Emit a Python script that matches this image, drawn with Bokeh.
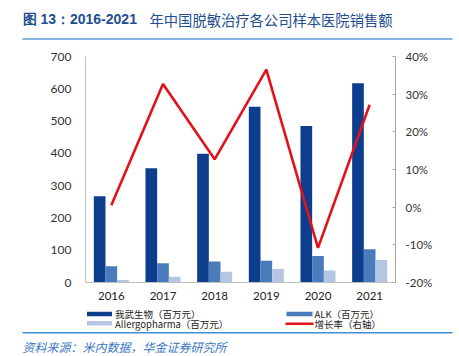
from bokeh.plotting import figure
from bokeh.models import (ColumnDataSource, Range1d, LinearAxis, Label, BoxAnnotation,
                          NumeralTickFormatter, FixedTicker)
from bokeh.transform import dodge
from bokeh.embed import file_html
from bokeh.resources import INLINE

years = [2016, 2017, 2018, 2019, 2020, 2021]
wowu = [267, 354, 399, 544, 485, 617]
alk = [50, 60, 65, 67, 82, 103]
allergo = [8, 18, 33, 42, 37, 70]
growth = [0.005, 0.327, 0.127, 0.365, -0.108, 0.272]
left_ticks = [0, 100, 200, 300, 400, 500, 600, 700]
right_ticks = [-0.2, -0.1, 0.0, 0.1, 0.2, 0.3, 0.4]

title_bold = "图 13：2016-2021"
title_rest = "年中国脱敏治疗各公司样本医院销售额"
source_text = "资料来源：米内数据，华金证券研究所"
legend_labels = ["我武生物（百万元）", "ALK（百万元）", "Allergopharma（百万元）", "增长率（右轴）"]

C_DARK = "#0D3E8E"
C_MID = "#4A7BBA"
C_LIGHT = "#B4C6E4"
C_RED = "#E4111C"
C_TITLE = "#1F4E91"
C_LINE = "#3F8FD6"
CJK = "Noto Sans CJK SC"
NUM = "Lato"

W, H = 459, 356
# plot area in page pixels
FL, FR, FT, FB = 85, 395, 56, 282

# ranges chosen so that the whole canvas is the frame and the plot area lands at FL..FR, FT..FB
ncat = len(years)
px_per_cat = (FR - FL) / ncat
x0 = years[0] - 0.5
xr = Range1d(x0 - FL / px_per_cat, x0 + (W - FL) / px_per_cat)
ymin, ymax = left_ticks[0], left_ticks[-1]
py = (FB - FT) / (ymax - ymin)
yr = Range1d(ymin - (H - FB) / py, ymax + FT / py)
gmin, gmax = right_ticks[0], right_ticks[-1]
pg = (FB - FT) / (gmax - gmin)
gr = Range1d(gmin - (H - FB) / pg, gmax + FT / pg)

p = figure(width=W, height=H, x_range=xr, y_range=yr, output_backend="svg",
           toolbar_location=None, x_axis_location=None, y_axis_location=None, min_border=0)
p.title.visible = False
p.outline_line_color = None
p.grid.visible = False
p.extra_y_ranges = {"g": gr}

src = ColumnDataSource(dict(year=years, wowu=wowu, alk=alk, allergo=allergo, growth=growth))
bw = 0.226
p.vbar(x=dodge("year", -bw), top="wowu", width=bw, source=src, fill_color=C_DARK, line_color=None)
p.vbar(x=dodge("year", 0), top="alk", width=bw, source=src, fill_color=C_MID, line_color=None)
p.vbar(x=dodge("year", bw), top="allergo", width=bw, source=src, fill_color=C_LIGHT, line_color=None)
p.line(x="year", y="growth", source=src, y_range_name="g", line_color=C_RED, line_width=2.6)

# axes, fixed at the plot-area edges
la = LinearAxis(fixed_location=x0, bounds=(ymin, ymax), ticker=FixedTicker(ticks=left_ticks))
la.axis_line_color = "#BFBFBF"
la.major_tick_line_color = None
la.major_tick_in = 0
la.major_tick_out = 0
la.minor_tick_line_color = None
la.major_label_text_font = NUM
la.major_label_text_font_size = "12px"
la.major_label_text_color = "#333333"
la.major_label_standoff = 14
p.add_layout(la, "left")

ra = LinearAxis(y_range_name="g", fixed_location=years[-1] + 0.5, bounds=(gmin, gmax),
                ticker=FixedTicker(ticks=right_ticks), formatter=NumeralTickFormatter(format="0%"))
ra.axis_line_color = "#A6A6A6"
ra.major_tick_in = 3
ra.major_tick_out = 0
ra.major_tick_line_color = "#A6A6A6"
ra.minor_tick_line_color = None
ra.major_label_text_font = NUM
ra.major_label_text_font_size = "11.5px"
ra.major_label_text_color = "#333333"
ra.major_label_standoff = 10
p.add_layout(ra, "right")

xa = LinearAxis(fixed_location=ymin, bounds=(x0, years[-1] + 0.5), ticker=FixedTicker(ticks=years),
                formatter=NumeralTickFormatter(format="0"))
xa.axis_line_color = "#BFBFBF"
xa.major_tick_line_color = None
xa.major_tick_in = 0
xa.major_tick_out = 0
xa.minor_tick_line_color = None
xa.major_label_text_font = NUM
xa.major_label_text_font_size = "11.5px"
xa.major_label_text_color = "#222222"
xa.major_label_standoff = 9
p.add_layout(xa, "below")


# texts and rules outside the plot area (screen px, page coords converted to y-up)
def text(txt, x, y, size, color, font=CJK, style="normal"):
    p.add_layout(Label(x=x, y=H - y, x_units="screen", y_units="screen", text=txt,
                       text_font=font, text_font_size=size, text_color=color,
                       text_font_style=style, text_baseline="middle", text_align="left"))


def box(l, r, t, b, color):
    p.add_layout(BoxAnnotation(left=l, right=r, top=H - t, bottom=H - b,
                               left_units="screen", right_units="screen",
                               top_units="screen", bottom_units="screen",
                               fill_color=color, fill_alpha=1, line_color=None))


text(title_bold, 22, 18.5, "14px", C_TITLE, font="Liberation Sans", style="bold")
text(title_rest, 149, 18.5, "14.3px", C_TITLE)
box(22, 452, 37.5, 39.5, "#86B5E0")

box(86.5, 111.5, 311.3, 315.7, C_DARK)
box(86.5, 111.5, 320.6, 325.0, C_LIGHT)
box(286, 312, 311.3, 315.7, C_MID)
box(285, 313, 322.0, 324.4, C_RED)
text(legend_labels[0], 114.5, 313.5, "9.5px", "#222222")
text(legend_labels[1], 314, 313.5, "9.5px", "#222222")
text(legend_labels[2], 114.5, 323, "9.5px", "#222222")
text(legend_labels[3], 314, 323, "9.5px", "#222222")

box(22, 452, 331.5, 333.1, C_LINE)
text(source_text, 22, 345.5, "12px", "#3C78C3", style="italic")

open("out.html", "w").write(file_html(p, INLINE))
